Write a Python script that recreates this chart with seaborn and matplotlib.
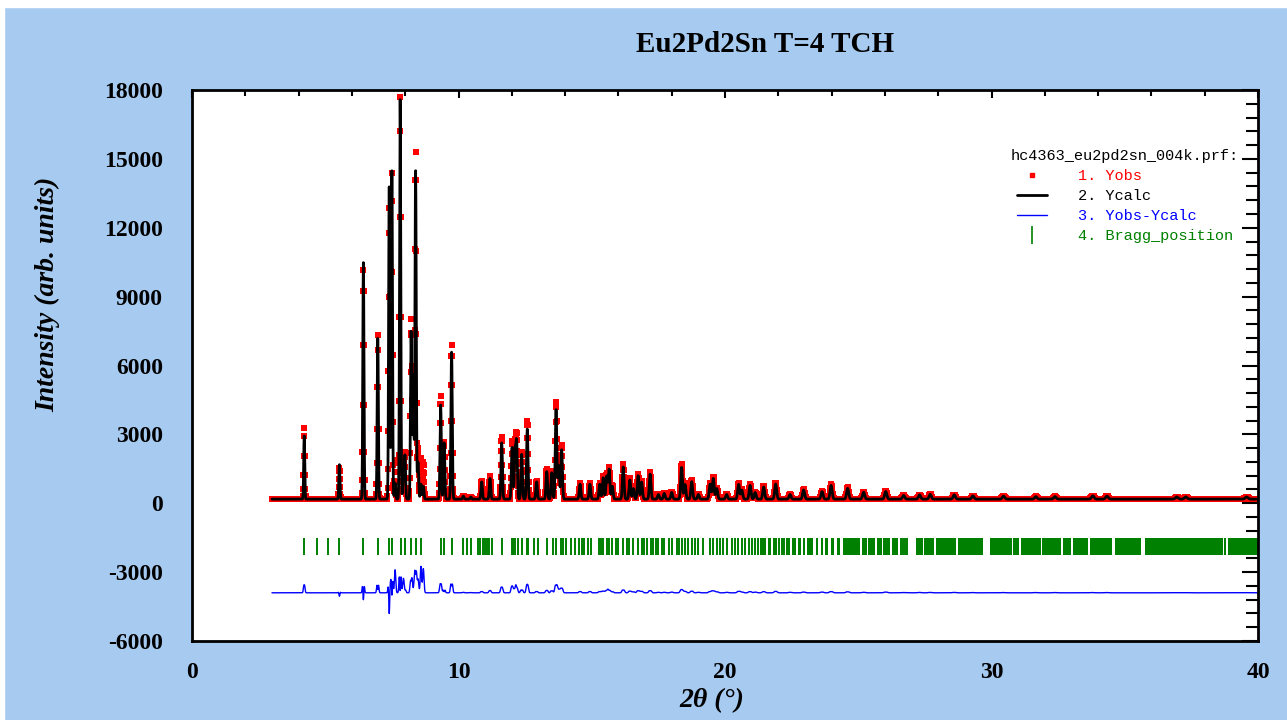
import numpy as np
import pandas as pd
import matplotlib
matplotlib.use('Agg')
import matplotlib.pyplot as plt
import seaborn as sns
from matplotlib.lines import Line2D
from matplotlib.patches import Rectangle
from matplotlib.ticker import MultipleLocator

peak_pos = [4.21, 5.53, 6.43, 6.97, 7.40, 7.50, 7.62, 7.81, 7.93, 7.99,
            8.22, 8.30, 8.39, 8.48, 8.59, 8.68, 9.33, 9.46, 9.74, 10.18,
            10.46, 10.87, 11.18, 11.62, 12.01, 12.12, 12.18, 12.37, 12.58, 12.93,
            13.31, 13.50, 13.66, 13.76, 13.87, 14.56, 14.93, 15.30, 15.43, 15.56,
            15.65, 15.77, 16.18, 16.43, 16.56, 16.74, 16.87, 17.19, 17.50, 17.72,
            18.00, 18.37, 18.50, 18.75, 19.00, 19.44, 19.56, 19.69, 20.06, 20.51,
            20.63, 20.94, 21.13, 21.45, 21.90, 22.44, 22.95, 23.64, 23.98, 24.60,
            25.20, 26.03, 26.70, 27.30, 27.70, 28.60, 29.30, 30.45, 31.66, 32.38,
            33.80, 34.33, 36.95, 37.29, 39.57]
peak_obs = [3100, 1350, 10000, 7150, 12700, 14200, 1700, 17500, 1600, 2000,
            7800, 5600, 15100, 2200, 1800, 1600, 4500, 2500, 6700, 150,
            100, 800, 1000, 2700, 2550, 2200, 2650, 2050, 3420, 800,
            1300, 1230, 4230, 1600, 2350, 700, 700, 700, 1000, 1100,
            1400, 600, 1520, 900, 500, 1110, 800, 1180, 220, 270,
            320, 1520, 700, 830, 220, 700, 980, 500, 220, 700,
            420, 650, 320, 580, 720, 220, 430, 360, 650, 510,
            320, 360, 170, 200, 220, 200, 150, 140, 120, 120,
            150, 140, 100, 100, 100]
peak_calc = [2750, 1500, 10300, 7000, 13600, 14300, 700, 17400, 1000, 1900,
             7300, 5400, 14300, 1600, 650, 550, 4100, 2450, 6400, 130,
             90, 750, 900, 2450, 2250, 2050, 2450, 1950, 3050, 750,
             1200, 1150, 3900, 1450, 2150, 650, 650, 650, 930, 1000,
             1300, 560, 1400, 830, 460, 1020, 740, 1090, 200, 250,
             290, 1380, 640, 760, 200, 650, 900, 460, 200, 640,
             390, 600, 290, 530, 660, 200, 400, 330, 600, 470,
             300, 330, 160, 185, 205, 185, 140, 130, 110, 110,
             140, 130, 95, 95, 95]
background = 180
diff_offset = -3900

# Posicoes de Bragg isoladas e faixas onde os tracos se juntam
bragg_ticks = [4.20, 4.68, 5.09, 5.53, 6.43, 6.97, 7.40, 7.49, 7.83, 7.99,
               8.22, 8.39, 8.58, 9.33, 9.47, 9.74, 10.18, 10.31, 10.46, 10.72,
               10.81, 10.91, 10.99, 11.06, 11.16, 11.27, 11.64, 12.01, 12.06, 12.12,
               12.22, 12.37, 12.56, 12.60, 12.85, 12.97, 13.31, 13.56, 13.66, 13.85,
               13.93, 14.02, 14.22, 14.37, 14.53, 14.62, 14.72, 14.87, 14.97, 15.27,
               15.35, 15.43, 15.56, 15.65, 15.77, 15.90, 16.00, 16.19, 16.31, 16.40,
               16.56, 16.75, 16.87, 16.96, 17.06, 17.22, 17.31, 17.40, 17.50, 17.62,
               17.72, 17.91, 18.00, 18.19, 18.27, 18.37, 18.50, 18.62, 18.75, 18.87,
               19.00, 19.19, 19.44, 19.56, 19.69, 19.81, 19.94, 20.06, 20.25, 20.38,
               20.50, 20.63, 20.75, 20.90, 21.00, 21.13, 21.25, 22.04, 22.13, 22.21,
               26.60, 26.68, 26.75, 26.83]
bragg_bands = [(21.31, 21.54), (21.63, 21.72), (21.79, 21.96), (22.29, 22.44),
               (22.50, 22.67), (22.75, 22.84), (22.92, 23.00), (23.06, 23.31),
               (23.41, 23.50), (23.59, 23.69), (23.76, 23.88), (23.98, 24.09),
               (24.19, 24.32), (24.44, 25.07), (25.13, 25.32), (25.38, 25.63),
               (25.69, 25.88), (25.94, 26.19), (26.25, 26.50), (27.17, 27.42),
               (27.47, 27.84), (27.92, 28.67), (28.74, 29.67), (29.94, 30.76),
               (30.82, 31.03), (31.11, 31.86), (31.91, 32.61), (32.70, 32.99),
               (33.07, 33.61), (33.70, 34.53), (34.64, 35.61), (35.74, 38.67),
               (38.74, 38.79), (38.87, 40.00)]
bragg_top = -1500
bragg_bottom = -2250

# Perfil montado a partir da lista de picos (calc um pouco mais estreito que obs)
tth = np.round(np.arange(3.0, 40.0001, 0.01), 2)

def perfil(alturas, largura=1.0):
    y = np.full(tth.shape, float(background))
    for p, h in zip(peak_pos, alturas):
        s = (0.016 + 0.0010 * p) * largura
        y += h * np.exp(-0.5 * ((tth - p) / s) ** 2)
    return y

df = pd.DataFrame({'tth': tth, 'yobs': perfil(peak_obs), 'ycalc': perfil(peak_calc, 0.95)})
df['diff'] = df['yobs'] - df['ycalc'] + diff_offset

sns.set_theme(style='white')
plt.rcParams['font.family'] = ['Liberation Serif', 'DejaVu Serif']
plt.rcParams['font.weight'] = 'bold'
plt.rcParams['text.color'] = 'black'
plt.rcParams['axes.labelcolor'] = 'black'
plt.rcParams['axes.unicode_minus'] = False

fig = plt.figure(figsize=(12.87, 7.2), dpi=100, facecolor='#A6CAF0')
ax = fig.add_axes([0.1492, 0.1097, 0.8283, 0.7653])
ax.set_facecolor('white')

sns.scatterplot(data=df, x='tth', y='yobs', color='red', marker='s', s=18,
                linewidth=0, ax=ax, legend=False)
sns.lineplot(data=df, x='tth', y='ycalc', color='black', lw=2, estimator=None,
             sort=False, ax=ax, legend=False)
sns.lineplot(data=df, x='tth', y='diff', color='blue', lw=1, estimator=None,
             sort=False, ax=ax, legend=False)
ax.vlines(bragg_ticks, bragg_bottom, bragg_top, color='green', lw=1.4)
ax.broken_barh([(a, b - a) for a, b in bragg_bands], (bragg_bottom, bragg_top - bragg_bottom),
               color='green', lw=0)

ax.set_xlim(0, 40)
ax.set_ylim(-6000, 18000)
ax.xaxis.set_major_locator(MultipleLocator(10))
ax.xaxis.set_minor_locator(MultipleLocator(2))
ax.yaxis.set_major_locator(MultipleLocator(3000))
ax.yaxis.set_minor_locator(MultipleLocator(600))
ax.tick_params(axis='both', which='both', direction='in', top=True, right=True,
               width=1.5, color='black', labelsize=17, labelcolor='black')
ax.tick_params(axis='y', which='major', length=11.5, pad=21)
ax.tick_params(axis='y', which='minor', length=8.5)
ax.tick_params(axis='x', which='major', length=6, pad=15)
ax.tick_params(axis='x', which='minor', length=4.3)
for lab in ax.get_xticklabels() + ax.get_yticklabels():
    lab.set_fontweight('bold')
for sp in ax.spines.values():
    sp.set_color('black')
    sp.set_linewidth(2)

ax.set_xlabel('2θ (°)', fontsize=20, fontweight='bold', fontstyle='italic', color='black')
ax.set_ylabel('Intensity (arb. units)', fontsize=20, fontweight='bold', fontstyle='italic',
              color='black')
ax.xaxis.set_label_coords(0.488, -0.085)
ax.yaxis.set_label_coords(-0.124, 0.63)

fig.text(765 / 1287, 1 - 45 / 720, 'Eu2Pd2Sn T=4 TCH', ha='center', va='center',
         fontsize=21, fontweight='bold', color='black')

handles = [Line2D([], [], marker='s', color='red', ls='none', ms=3),
           Line2D([], [], color='black', lw=2),
           Line2D([], [], color='blue', lw=1),
           Line2D([], [], marker='|', color='green', ls='none', ms=13, mew=1.2)]
labels = ['1. Yobs', '2. Ycalc', '3. Yobs-Ycalc', '4. Bragg_position']
leg = ax.legend(handles, labels, loc='upper right', bbox_to_anchor=(0.995, 0.918),
                frameon=False,
                prop={'family': 'Liberation Mono', 'size': 11, 'weight': 'normal'},
                title='hc4363_eu2pd2sn_004k.prf:',
                title_fontproperties={'family': 'Liberation Mono', 'size': 11,
                                      'weight': 'normal'},
                labelcolor=['red', 'black', 'blue', 'green'],
                handlelength=2.0, handletextpad=2.0, labelspacing=0.4)

# faixas brancas da captura original
fig.patches.append(Rectangle((0, 1 - 7 / 720), 1, 7 / 720, transform=fig.transFigure,
                             color='white', zorder=10))
fig.patches.append(Rectangle((0, 0), 4 / 1287, 1, transform=fig.transFigure,
                             color='white', zorder=10))

fig.savefig('out.png', dpi=100, facecolor=fig.get_facecolor())
